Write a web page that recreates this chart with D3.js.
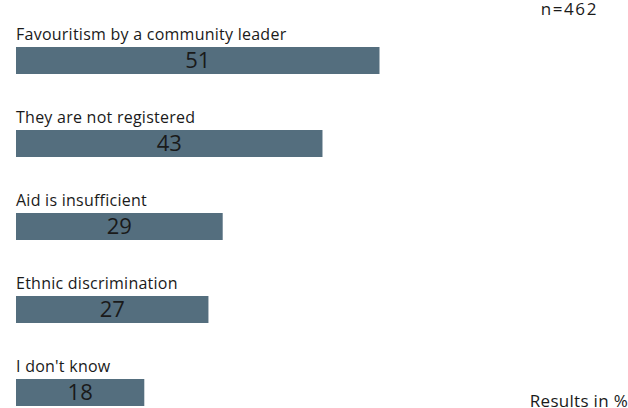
<!DOCTYPE html>
<html>
<head>
<meta charset="utf-8">
<script src="https://cdn.jsdelivr.net/npm/d3@7"></script>
<style>
  html, body { margin: 0; padding: 0; background: #fff; overflow: hidden; }
  svg { display: block; }
  text { font-family: "Open Sans", sans-serif; fill: #1a1a1a; }
</style>
</head>
<body>
<svg id="chart" width="628" height="408"></svg>
<script>
// Reasons given for not receiving aid (share of respondents)
const categories = [
  "Favouritism by a community leader",
  "They are not registered",
  "Aid is insufficient",
  "Ethnic discrimination",
  "I don't know"
];
const values = [51, 43, 29, 27, 18];
const sampleNote = "n=462";
const unitNote = "Results in %";

const svg = d3.select("#chart");

const x = d3.scaleLinear().domain([0, 51]).range([16, 379.5]);
// one row per category: label on top, bar below it
const y = d3.scaleBand().domain(categories).range([22, 22 + 83 * categories.length]).padding(0);
const barOffset = 25, barH = 27;

const rows = svg.selectAll("g.row")
  .data(categories.map((c, i) => ({ c, v: values[i] })))
  .join("g").attr("class", "row");

rows.append("rect")
  .attr("x", x(0))
  .attr("y", d => y(d.c) + barOffset)
  .attr("width", d => x(d.v) - x(0))
  .attr("height", barH)
  .attr("fill", "#546e7e");

rows.append("text")
  .attr("x", 16)
  .attr("y", d => y(d.c) + 18)
  .attr("font-size", 16)
  .attr("letter-spacing", 0.25)
  .text(d => d.c);

rows.append("text")
  .attr("x", d => (x(0) + x(d.v)) / 2)
  .attr("y", d => y(d.c) + barOffset + 21)
  .attr("text-anchor", "middle")
  .attr("font-size", 22)
  .text(d => d.v);

svg.append("text")
  .attr("x", 598).attr("y", 15)
  .attr("text-anchor", "end")
  .attr("font-size", 17)
  .attr("letter-spacing", 1.6)
  .text(sampleNote);

svg.append("text")
  .attr("x", 628).attr("y", 407)
  .attr("text-anchor", "end")
  .attr("font-size", 17)
  .attr("letter-spacing", 0.3)
  .text(unitNote);
</script>
</body>
</html>
